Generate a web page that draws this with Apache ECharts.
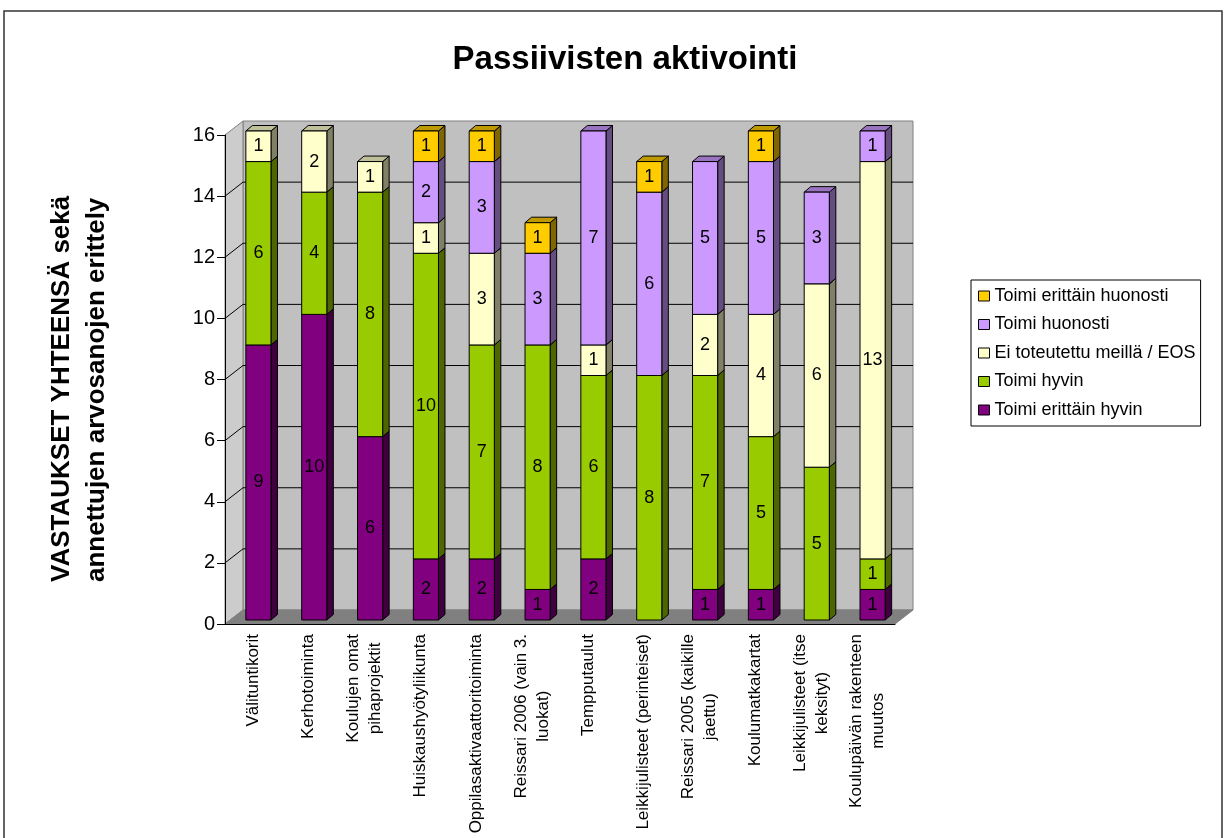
<!DOCTYPE html>
<html>
<head>
<meta charset="utf-8">
<script src="https://cdn.jsdelivr.net/npm/echarts@6/dist/echarts.min.js"></script>
<style>
  html, body { margin: 0; padding: 0; background: #fff; }
  #chart { width: 1227px; height: 838px; }
</style>
</head>
<body>
<div id="chart"></div>
<script>
const categories = [
  'Välituntikorit',
  'Kerhotoiminta',
  'Koulujen omat\npihaprojektit',
  'Huiskaushyötyliikunta',
  'Oppilasaktivaattoritoiminta',
  'Reissari 2006 (vain 3.\nluokat)',
  'Tempputaulut',
  'Leikkijulisteet (perinteiset)',
  'Reissari 2005 (kaikille\njaettu)',
  'Koulumatkakartat',
  'Leikkijulisteet (itse\nkeksityt)',
  'Koulupäivän rakenteen\nmuutos'
]
const erittainHyvin = [9, 10, 6, 2, 2, 1, 2, 0, 1, 1, 0, 1]
const hyvin = [6, 4, 8, 10, 7, 8, 6, 8, 7, 5, 5, 1]
const eos = [1, 2, 1, 1, 3, 0, 1, 0, 2, 4, 6, 13]
const huonosti = [0, 0, 0, 2, 3, 3, 7, 6, 5, 5, 3, 1]
const erittainHuonosti = [0, 0, 0, 1, 1, 1, 0, 1, 0, 1, 0, 0]
const yTicks = [0, 2, 4, 6, 8, 10, 12, 14, 16]

const seriesDefs = [
  { name: 'Toimi erittäin hyvin', values: erittainHyvin, color: '#800080' },
  { name: 'Toimi hyvin', values: hyvin, color: '#99CC00' },
  { name: 'Ei toteutettu meillä / EOS', values: eos, color: '#FFFFCC' },
  { name: 'Toimi huonosti', values: huonosti, color: '#CC99FF' },
  { name: 'Toimi erittäin huonosti', values: erittainHuonosti, color: '#FFCC00' }
]

const FONT = 'Liberation Sans, Arial, sans-serif'
// 3d look
const WALL_DX = 18, WALL_DY = 14
const BAR_DX = 6.5, BAR_DY = 5.5
const BAR_SHIFT_X = 5.5, BAR_SHIFT_Y = 4

function shade(hex, f) {
  const n = parseInt(hex.slice(1), 16)
  const r = Math.round(((n >> 16) & 255) * f)
  const g = Math.round(((n >> 8) & 255) * f)
  const b = Math.round((n & 255) * f)
  return `rgb(${r},${g},${b})`
}

function barRenderer(color) {
  const side = shade(color, 0.5)
  const topC = shade(color, 0.75)
  return function (params, api) {
    const cat = api.value(0)
    const p0 = api.coord([cat, api.value(1)])
    const p1 = api.coord([cat, api.value(2)])
    const bw = api.size([1, 0])[0] * 0.45
    const x = p0[0] - bw / 2 + BAR_SHIFT_X
    const yb = p0[1] - BAR_SHIFT_Y
    const yt = p1[1] - BAR_SHIFT_Y
    const stroke = { stroke: '#000', lineWidth: 1 }
    return {
      type: 'group',
      children: [
        {
          type: 'polygon',
          shape: { points: [[x + bw, yt], [x + bw + BAR_DX, yt - BAR_DY], [x + bw + BAR_DX, yb - BAR_DY], [x + bw, yb]] },
          style: Object.assign({ fill: side }, stroke)
        },
        {
          type: 'polygon',
          shape: { points: [[x, yt], [x + BAR_DX, yt - BAR_DY], [x + bw + BAR_DX, yt - BAR_DY], [x + bw, yt]] },
          style: Object.assign({ fill: topC }, stroke)
        },
        {
          type: 'rect',
          shape: { x: x, y: yt, width: bw, height: yb - yt },
          style: Object.assign({ fill: color }, stroke)
        },
        {
          type: 'text',
          z2: 10,
          style: {
            text: String(api.value(3)),
            x: x + bw / 2,
            y: (yt + yb) / 2,
            align: 'center',
            verticalAlign: 'middle',
            font: '18px ' + FONT,
            fill: '#000'
          }
        }
      ]
    }
  }
}

function renderWalls(params, api) {
  const cs = params.coordSys
  const x0 = cs.x, x1 = cs.x + cs.width
  const yBottom = api.coord([0, 0])[1]
  const yTop = api.coord([0, 16])[1]
  const children = []
  // back wall
  children.push({
    type: 'rect',
    shape: { x: x0 + WALL_DX, y: yTop - WALL_DY, width: x1 - x0, height: yBottom - yTop },
    style: { fill: '#C0C0C0', stroke: '#808080', lineWidth: 1 }
  })
  // left wall
  children.push({
    type: 'polygon',
    shape: { points: [[x0, yBottom], [x0 + WALL_DX, yBottom - WALL_DY], [x0 + WALL_DX, yTop - WALL_DY], [x0, yTop]] },
    style: { fill: '#CCCCCC', stroke: '#808080', lineWidth: 1 }
  })
  // floor
  children.push({
    type: 'polygon',
    shape: { points: [[x0, yBottom], [x1, yBottom], [x1 + WALL_DX, yBottom - WALL_DY], [x0 + WALL_DX, yBottom - WALL_DY]] },
    style: { fill: '#808080', stroke: '#808080', lineWidth: 1 }
  })
  yTicks.forEach(v => {
    if (v === 0 || v === 16) return
    const y = api.coord([0, v])[1]
    children.push({
      type: 'polyline',
      shape: { points: [[x0, y], [x0 + WALL_DX, y - WALL_DY], [x1 + WALL_DX, y - WALL_DY]] },
      style: { stroke: '#000', lineWidth: 1, fill: null }
    })
  })
  return { type: 'group', children: children }
}

const series = [
  {
    type: 'custom',
    name: '_walls',
    z: 1,
    silent: true,
    renderItem: renderWalls,
    data: [[0, 0]],
    encode: { x: 0, y: 1 }
  }
]
const base = categories.map(() => 0)
seriesDefs.forEach(def => {
  const rows = []
  def.values.forEach((v, i) => {
    if (v > 0) rows.push([i, base[i], base[i] + v, v])
    base[i] += v
  })
  series.push({
    type: 'custom',
    name: def.name,
    z: 2,
    itemStyle: { color: def.color },
    renderItem: barRenderer(def.color),
    encode: { x: 0, y: [1, 2] },
    data: rows
  })
})

const chart = echarts.init(document.getElementById('chart'))
chart.setOption({
  animation: false,
  textStyle: { fontFamily: FONT },
  graphic: [
    {
      type: 'rect',
      shape: { x: 4, y: 11, width: 1218, height: 900 },
      style: { fill: null, stroke: '#333', lineWidth: 1.5 },
      silent: true
    },
    {
      // y axis title, cut off at the top like in the original
      type: 'text',
      x: 79,
      y: 582,
      rotation: Math.PI / 2,
      silent: true,
      style: {
        text: 'VASTAUKSET YHTEENSÄ sekä arvosanat\nannettujen arvosanojen erittely',
        fontSize: 26,
        fontWeight: 'bold',
        fontFamily: FONT,
        lineHeight: 35,
        align: 'left',
        verticalAlign: 'middle',
        width: 400,
        overflow: 'truncate',
        ellipsis: '',
        fill: '#000'
      }
    }
  ],
  title: {
    text: 'Passiivisten aktivointi',
    left: 620,
    top: 38,
    textAlign: 'center',
    textStyle: { fontSize: 33, fontWeight: 'bold', color: '#000', fontFamily: FONT }
  },
  legend: {
    orient: 'vertical',
    left: 971,
    top: 280,
    padding: [7, 5, 7, 7],
    itemWidth: 11,
    itemHeight: 10,
    itemGap: 10.5,
    icon: 'rect',
    borderColor: '#000',
    borderWidth: 1,
    backgroundColor: '#fff',
    itemStyle: { borderColor: '#000', borderWidth: 1 },
    textStyle: { fontSize: 18, lineHeight: 18, color: '#000', fontFamily: FONT },
    data: seriesDefs.map(d => d.name).reverse()
  },
  grid: { left: 225, right: 332, top: 135, bottom: 214 },
  xAxis: {
    type: 'category',
    data: categories,
    z: 5,
    axisLine: { lineStyle: { color: '#000', width: 1 } },
    axisTick: { length: 9, lineStyle: { color: '#000' } },
    axisLabel: {
      rotate: 90,
      margin: 10,
      interval: 0,
      color: '#000',
      fontSize: 17,
      lineHeight: 22,
      fontFamily: FONT,
      formatter: v => v.split('\n').map(s => '{c|' + s + '}').join('\n'),
      rich: { c: { align: 'center', fontSize: 17, lineHeight: 22, fontFamily: FONT, color: '#000' } }
    }
  },
  yAxis: {
    type: 'value',
    min: 0,
    max: 16,
    interval: 2,
    z: 5,
    axisLine: { show: true, lineStyle: { color: '#000', width: 1 } },
    axisTick: { show: true, length: 8, lineStyle: { color: '#000' } },
    axisLabel: { margin: 10, color: '#000', fontSize: 20, fontFamily: FONT },
    splitLine: { show: false }
  },
  series: series
})
</script>
</body>
</html>
